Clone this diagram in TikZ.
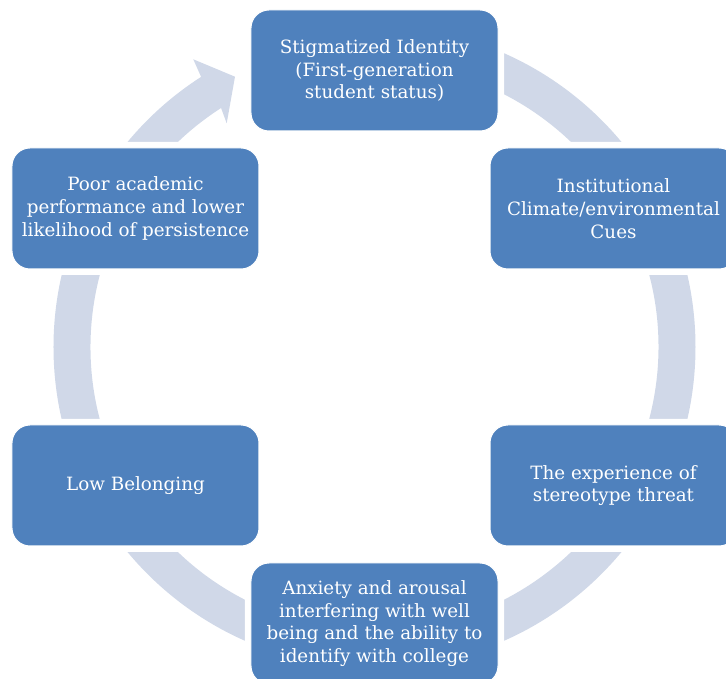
\documentclass[tikz,border=0pt]{standalone}
\usepackage{fontspec}
\setmainfont{DejaVu Serif}
\definecolor{boxblue}{HTML}{4F81BD}
\definecolor{ringblue}{HTML}{D0D8E8}
\tikzset{
  cyclebox/.style={
    rectangle, rounded corners=18pt, minimum width=247pt, minimum height=121pt,
    fill=boxblue, draw=white, line width=1pt, text=white, align=center,
    inner sep=0pt,
    font=\fontsize{18.3pt}{22.8pt}\selectfont,
    preaction={draw=white, line width=12pt}
  },
  ring/.style={fill=ringblue, draw=none}
}
\begin{document}
\begin{tikzpicture}[x=1pt,y=1pt]
  \useasboundingbox (-374.5,-332) rectangle (351.5,347);
  \clip (-374.5,-332) rectangle (351.5,347);
  % cycle ring with arrowhead pointing at the top box
  \fill[ring] (90:321) arc[start angle=90, end angle=-237.3, radius=321]
    -- (-181.2,287.7) -- (-139.5,270.3) -- (-147.8,223.7)
    -- (-237.3:284) arc[start angle=-237.3, end angle=90, radius=284] -- cycle;
  % stages of the cycle
  \node[cyclebox] (identity) at (0,276.5) {Stigmatized Identity\\(First-generation\\student status)};
  \node[cyclebox] (climate) at (239,138.5) {Institutional\\Climate/environmental\\Cues};
  \node[cyclebox] (threat) at (239,-138.5) {The experience of\\stereotype threat};
  \node[cyclebox] (anxiety) at (0,-276.5) {Anxiety and arousal\\interfering with well\\being and the ability to\\identify with college};
  \node[cyclebox] (belonging) at (-239,-138.5) {Low Belonging};
  \node[cyclebox] (performance) at (-239,138.5) {Poor academic\\performance and lower\\likelihood of persistence};
\end{tikzpicture}
\end{document}
